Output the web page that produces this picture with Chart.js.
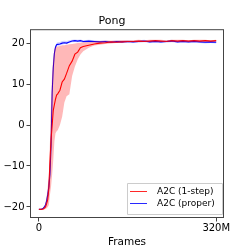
<!DOCTYPE html>
<html>
<head>
<meta charset="utf-8">
<script src="https://cdn.jsdelivr.net/npm/chart.js@4.4.1/dist/chart.umd.min.js"></script>
<style>
  html, body { margin: 0; padding: 0; background: #fff; }
  #wrap { width: 249px; height: 249px; }
</style>
</head>
<body>
<div id="wrap"><canvas id="grafica" width="249" height="249"></canvas></div>
<script>
// frames in millions
const frames = [0, 4, 8, 10, 12, 14, 16, 18, 20, 22, 24, 26, 28, 30, 32, 34, 38, 42, 46, 50,
  55, 60, 65, 70, 75, 80, 90, 100, 110, 120, 130, 140, 150, 160, 170, 180, 190, 200, 210, 220,
  230, 240, 250, 260, 270, 280, 290, 300, 310, 320];

const oneStep = [-20.6, -20.6, -20.5, -20.3, -20, -19.2, -18.2, -15.5, -9, -3.5,
  0, 3.6, 5, 6.3, 7.3, 7.6, 8.5, 10.5, 11.2, 12.6,
  14.5, 15.6, 17.3, 17.8, 18.9, 19.2, 19.5, 19.8, 20.0, 20.1,
  20.3, 20.2, 20.3, 20.4, 20.4, 20.5, 20.4, 20.5, 20.6, 20.5,
  20.4, 20.6, 20.5, 20.6, 20.5, 20.6, 20.5, 20.6, 20.5, 20.6];
const oneStepLo = [-20.7, -20.7, -20.7, -20.6, -20.5, -20.3, -20, -19.5, -17, -15,
  -12, -8.5, -4, -2, -1.5, -1.3, 0, 2, 5.5, 7,
  7.5, 12, 14.3, 16, 17.2, 18, 18.9, 19.4, 19.6, 19.8,
  19.9, 20.0, 20.1, 20.2, 20.2, 20.3, 20.3, 20.3, 20.4, 20.3,
  20.3, 20.4, 20.3, 20.4, 20.3, 20.4, 20.3, 20.4, 20.3, 20.4];
const oneStepHi = [-20.5, -20.5, -20.2, -19.8, -19, -17.5, -15, -12, -4, 6,
  13, 16.5, 18.5, 19, 19.2, 19.2, 19.3, 19.5, 19.5, 19.6,
  19.7, 19.8, 19.9, 20, 20.1, 20.2, 20.3, 20.4, 20.5, 20.6,
  20.6, 20.6, 20.7, 20.7, 20.7, 20.8, 20.7, 20.8, 20.8, 20.8,
  20.7, 20.8, 20.8, 20.8, 20.7, 20.8, 20.8, 20.8, 20.7, 20.8];

const proper = [-20.6, -20.6, -20.3, -20, -19.5, -18.5, -17, -15, -12, -5,
  8, 14, 17.5, 19, 19.6, 19.7, 19.8, 20.0, 20.1, 20.0,
  20.3, 20.5, 20.6, 20.5, 20.6, 20.4, 20.5, 20.4, 20.3, 20.4,
  20.2, 20.4, 20.3, 20.4, 20.3, 20.4, 20.5, 20.3, 20.4, 20.3,
  20.4, 20.5, 20.3, 20.4, 20.3, 20.4, 20.3, 20.2, 20.3, 20.2];
const properLo = [-20.7, -20.7, -20.5, -20.3, -20, -19.3, -18, -16.5, -14, -8,
  5, 12, 16.5, 18.5, 19.2, 19.3, 19.4, 19.6, 19.8, 19.7,
  20.0, 20.2, 20.3, 20.2, 20.3, 20.1, 20.2, 20.1, 20.0, 20.1,
  20.0, 20.1, 20.0, 20.1, 20.0, 20.1, 20.2, 20.0, 20.1, 20.0,
  20.1, 20.2, 20.0, 20.1, 20.0, 20.1, 20.0, 19.9, 20.0, 19.9];
const properHi = [-20.5, -20.5, -20.1, -19.7, -19, -17.5, -16, -13, -9, -1,
  11, 16, 18.5, 19.5, 20.0, 20.2, 20.3, 20.5, 20.6, 20.5,
  20.7, 20.8, 20.9, 20.8, 20.9, 20.7, 20.8, 20.7, 20.6, 20.7,
  20.5, 20.7, 20.6, 20.7, 20.6, 20.7, 20.8, 20.6, 20.7, 20.6,
  20.7, 20.8, 20.6, 20.7, 20.6, 20.7, 20.6, 20.5, 20.6, 20.5];

const xTicks = [0, 320];
const yTicks = [-20, -10, 0, 10, 20];
const legendLabels = ['A2C (1-step)', 'A2C (proper)'];
const legendColors = ['rgb(255,40,40)', 'rgb(40,40,255)'];

function pts(ys) { return frames.map((x, i) => ({ x: x, y: ys[i] })); }

const marcoPlugin = {
  id: 'marco',
  afterDraw(chart) {
    const ctx = chart.ctx;
    const a = chart.chartArea;
    ctx.save();
    ctx.strokeStyle = '#444';
    ctx.lineWidth = 1;
    ctx.strokeRect(a.left + 0.5, a.top + 0.5, a.right - a.left - 1, a.bottom - a.top - 1);

    // leyenda dentro del area
    const bx = a.right - 97, by = a.bottom - 35, bw = 95, bh = 31;
    ctx.fillStyle = 'rgba(255,255,255,0.8)';
    ctx.strokeStyle = '#ccc';
    ctx.beginPath();
    ctx.rect(bx + 0.5, by + 0.5, bw, bh);
    ctx.fill();
    ctx.stroke();
    ctx.font = '9px "DejaVu Sans"';
    ctx.textBaseline = 'middle';
    ctx.textAlign = 'left';
    legendLabels.forEach((lab, i) => {
      const y = Math.round(by + 8 + i * 12) + 0.5;
      ctx.strokeStyle = legendColors[i];
      ctx.lineWidth = 1;
      ctx.beginPath();
      ctx.moveTo(bx + 3, y);
      ctx.lineTo(bx + 20, y);
      ctx.stroke();
      ctx.fillStyle = '#000';
      ctx.fillText(lab, bx + 30, y);
    });
    ctx.restore();
  }
};

new Chart(document.getElementById('grafica').getContext('2d'), {
  type: 'line',
  data: {
    datasets: [
      { label: 'lo1', data: pts(oneStepLo), borderWidth: 0, pointRadius: 0, fill: false },
      { label: 'hi1', data: pts(oneStepHi), borderWidth: 0, pointRadius: 0, fill: '-1',
        backgroundColor: 'rgba(255,0,0,0.28)' },
      { label: 'lo2', data: pts(properLo), borderWidth: 0, pointRadius: 0, fill: false },
      { label: 'hi2', data: pts(properHi), borderWidth: 0, pointRadius: 0, fill: '-1',
        backgroundColor: 'rgba(0,0,255,0.18)' },
      { label: legendLabels[0], data: pts(oneStep), borderColor: 'rgb(255,0,0)', borderWidth: 1.1,
        pointRadius: 0, fill: false, tension: 0 },
      { label: legendLabels[1], data: pts(proper), borderColor: 'rgb(0,0,255)', borderWidth: 1.1,
        pointRadius: 0, fill: false, tension: 0 }
    ]
  },
  options: {
    responsive: false,
    animation: false,
    layout: { padding: { left: 0, right: 25, top: 0, bottom: 0 } },
    plugins: {
      legend: { display: false },
      tooltip: { enabled: false },
      title: {
        display: true, text: 'Pong', color: '#000',
        font: { family: 'DejaVu Sans', size: 11, weight: 'normal' },
        padding: { top: 15, bottom: 1 }
      }
    },
    scales: {
      x: {
        type: 'linear', min: -16, max: 334,
        afterBuildTicks: s => { s.ticks = xTicks.map(v => ({ value: v })); },
        afterFit: s => { s.height = 31; },
        ticks: {
          color: '#000', font: { family: 'DejaVu Sans', size: 10 }, padding: 1, maxRotation: 0,
          callback: v => v === 0 ? '0' : v + 'M'
        },
        grid: { drawOnChartArea: false, drawTicks: true, tickLength: 3.5, color: '#444' },
        border: { display: false },
        title: {
          display: true, text: 'Frames', color: '#000',
          font: { family: 'DejaVu Sans', size: 10.5 }, padding: { top: 0, bottom: 0 }
        }
      },
      y: {
        min: -22.7, max: 23.4,
        afterBuildTicks: s => { s.ticks = yTicks.map(v => ({ value: v })); },
        afterFit: s => { s.width = 30; },
        ticks: {
          color: '#000', font: { family: 'DejaVu Sans', size: 10 }, padding: 2,
          callback: v => v < 0 ? '\u2212' + Math.abs(v) : String(v)
        },
        grid: { drawOnChartArea: false, drawTicks: true, tickLength: 3.5, color: '#444' },
        border: { display: false }
      }
    }
  },
  plugins: [marcoPlugin]
});
</script>
</body>
</html>
